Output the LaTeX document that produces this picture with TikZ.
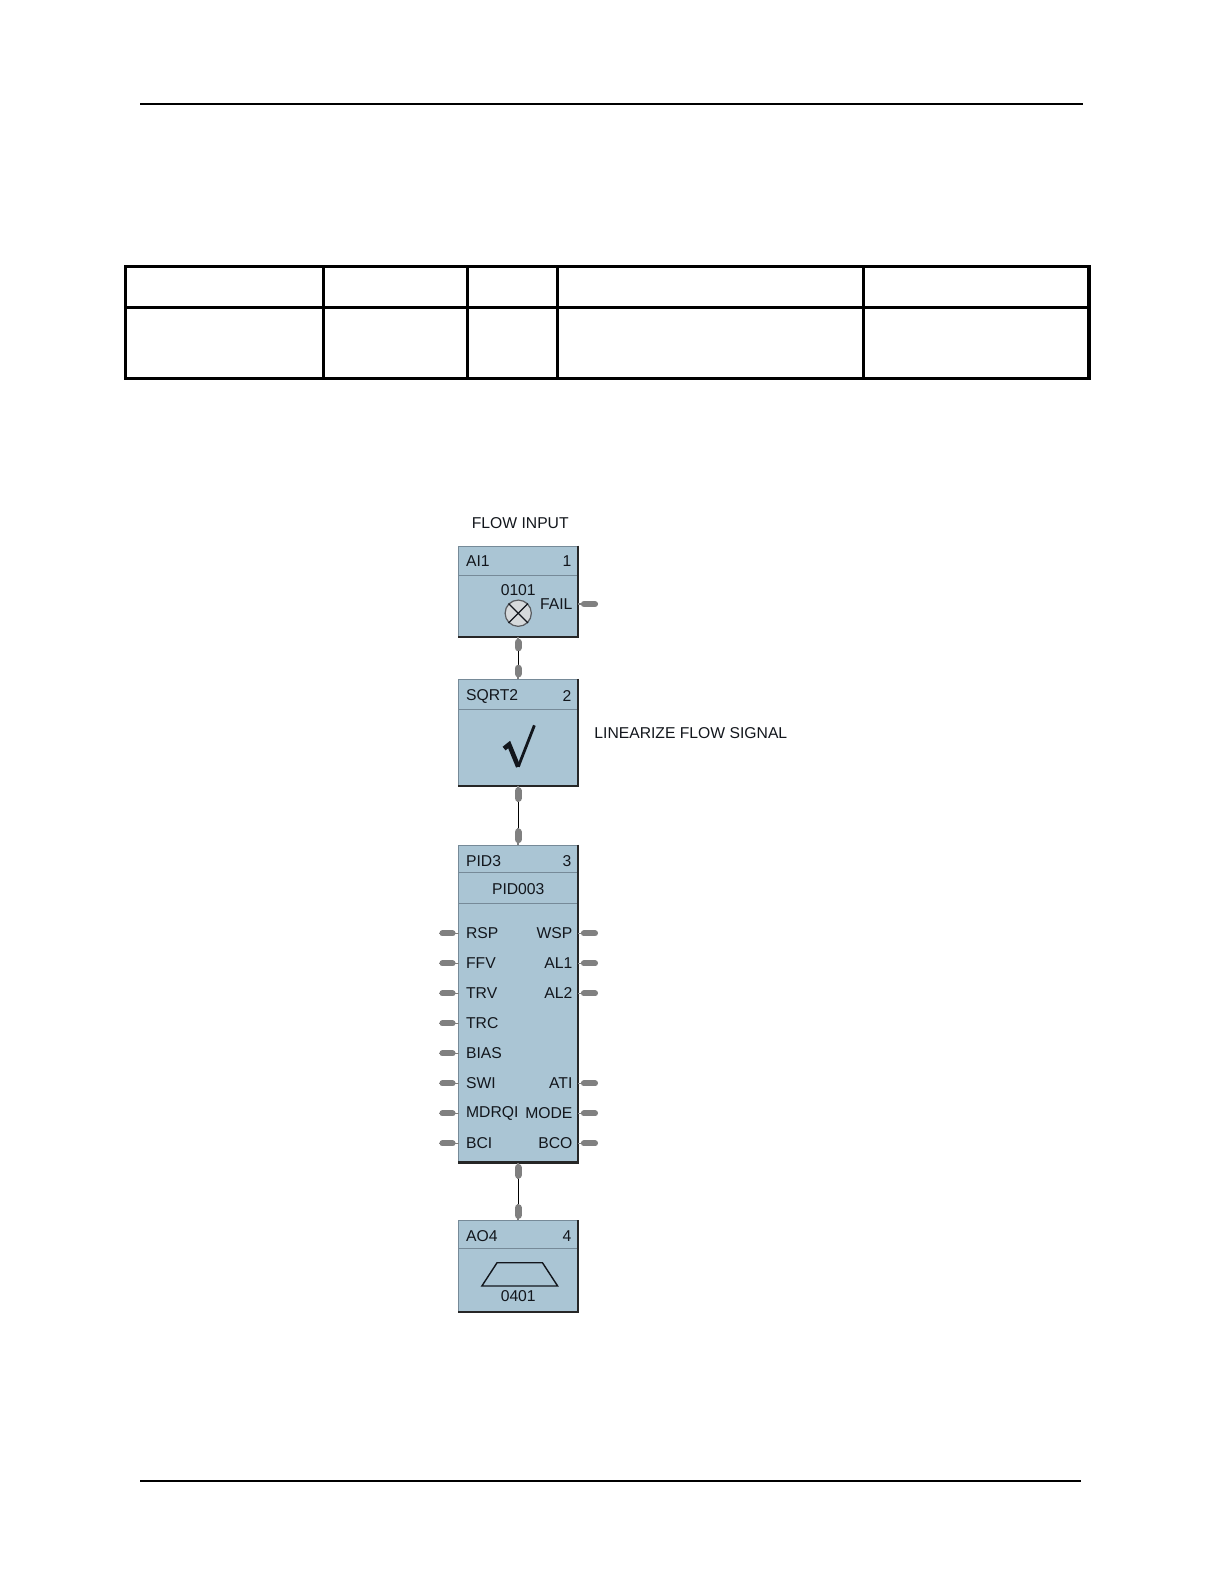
\documentclass[tikz,border=0pt]{standalone}
\usepackage{fontspec}
\setmainfont{Liberation Sans}
\definecolor{blkfill}{RGB}{170,197,212}
\definecolor{blkedge}{RGB}{118,138,152}
\definecolor{pingray}{RGB}{128,128,128}
\definecolor{txtdark}{RGB}{18,22,28}
\definecolor{lampfill}{RGB}{214,218,220}
\begin{document}
\begin{tikzpicture}[x=0.5bp, y=-0.5bp,
    lbl/.style={font=\fontsize{7.8}{9}\selectfont, text=txtdark, inner sep=0pt},
    fblock/.style={rectangle, draw=blkedge, fill=blkfill, minimum width=59bp, inner sep=0pt, anchor=north},
    shade/.style={draw=black!85, line width=1.1bp},
    divider/.style={draw=blkedge, line width=0.6bp},
    pin/.style={draw=pingray, line width=0.9bp},
    knob/.style={draw=pingray, line width=3bp, line cap=round, shorten <=3bp, shorten >=1.5bp},
    vknob/.style={draw=pingray, line width=3.6bp, line cap=round, shorten <=2.5bp, shorten >=1.8bp},
    wire/.style={draw=black, line width=0.7bp},
    pagerule/.style={line width=1bp},
    grid/.style={line width=1.5bp}]

\useasboundingbox (0,0) rectangle (1212,1568);

% page rules
\draw[pagerule] (139,103) -- (1072,103);
\draw[pagerule] (139,1466) -- (1070,1466);

% empty table
\draw[grid] (124,264) rectangle (1078,375);
\draw[grid] (124,304) -- (1078,304);
\foreach \x in {320,463,552,855}
    \draw[grid] (\x,264) -- (\x,375);

% AI1 block
\node[lbl] (flowlbl) at (515,518) {FLOW INPUT};
\node[fblock, minimum height=45bp] (ai) at (513,540) {};
\draw[divider] ([yshift=-15bp]ai.north west) -- ([yshift=-15bp]ai.north east);
\draw[shade] (ai.north east) -- (ai.south east) -- (ai.south west);
\node[lbl, anchor=west] (ai-name) at (461,555) {AI1};
\node[lbl, anchor=east] (ai-num) at (566,555) {1};
\node[lbl] (ai-ch) at (513,584) {0101};
\node[circle, draw=txtdark!70, fill=lampfill, minimum size=13bp, inner sep=0pt, line width=0.6bp] (ai-lamp) at (513,607) {};
\draw[txtdark, line width=0.6bp] (ai-lamp.north west) -- (ai-lamp.south east);
\draw[txtdark, line width=0.6bp] (ai-lamp.north east) -- (ai-lamp.south west);
\node[lbl, anchor=east] (ai-fail) at (567,598) {FAIL};
\coordinate (ai-f) at (572,598);
\coordinate (ai-ft) at (592,598);
\draw[pin] (ai-f) -- (ai-ft);
\draw[knob] (ai-f) -- (ai-ft);

% SQRT2 block
\node[fblock, minimum height=52.5bp] (sq) at (513,672) {};
\draw[divider] ([yshift=-15bp]sq.north west) -- ([yshift=-15bp]sq.north east);
\draw[shade] (sq.north east) -- (sq.south east) -- (sq.south west);
\node[lbl, anchor=west] (sq-name) at (461,689) {SQRT2};
\node[lbl, anchor=east] (sq-num) at (566,689) {2};
\draw[txtdark, line width=2.3bp, line join=miter] (499,741) -- (504,737) -- (513,759);
\draw[txtdark, line width=1.4bp] (513,759) -- (529,718);
\node[lbl, anchor=west] (sq-note) at (588,726) {LINEARIZE FLOW SIGNAL};

% PID3 block
\node[fblock, minimum height=157bp] (pid) at (513,836) {};
\draw[divider] ([yshift=-14bp]pid.north west) -- ([yshift=-14bp]pid.north east);
\draw[divider] ([yshift=-29bp]pid.north west) -- ([yshift=-29bp]pid.north east);
\draw[shade] (pid.north east) -- (pid.south east) -- (pid.south west);
\node[lbl, anchor=west] (pid-name) at (461,852) {PID3};
\node[lbl, anchor=east] (pid-num) at (566,852) {3};
\node[lbl] (pid-tag) at (513,880) {PID003};
\foreach \lt [count=\i from 0] in {RSP,FFV,TRV,TRC,BIAS,SWI,MDRQI,BCI} {
    \node[lbl, anchor=west] (pid-l\i) at (461,{924+29.7*\i}) {\lt};
    \coordinate (pid-le\i) at (454,{924+29.7*\i});
    \coordinate (pid-lt\i) at (435,{924+29.7*\i});
    \draw[pin] (pid-le\i) -- (pid-lt\i);
    \draw[knob] (pid-le\i) -- (pid-lt\i);
}
\foreach \i/\rt in {0/WSP,1/AL1,2/AL2,5/ATI,6/MODE,7/BCO} {
    \node[lbl, anchor=east] (pid-r\i) at (567,{924+29.7*\i}) {\rt};
    \coordinate (pid-re\i) at (572,{924+29.7*\i});
    \coordinate (pid-rt\i) at (592,{924+29.7*\i});
    \draw[pin] (pid-re\i) -- (pid-rt\i);
    \draw[knob] (pid-re\i) -- (pid-rt\i);
}

% AO4 block
\node[fblock, minimum height=45bp] (ao) at (513,1208) {};
\draw[divider] ([yshift=-14bp]ao.north west) -- ([yshift=-14bp]ao.north east);
\draw[shade] (ao.north east) -- (ao.south east) -- (ao.south west);
\node[lbl, anchor=west] (ao-name) at (461,1224) {AO4};
\node[lbl, anchor=east] (ao-num) at (566,1224) {4};
\draw[txtdark, line width=0.7bp] (477,1273) -- (492,1250) -- (537,1250) -- (552,1273) -- cycle;
\node[lbl] (ao-ch) at (513,1283) {0401};

% connections
\coordinate (ai-o) at ([yshift=-7bp]ai.south);
\coordinate (sq-i) at ([yshift=7bp]sq.north);
\draw[pin] (ai.south) -- (ai-o);
\draw[vknob] (ai.south) -- (ai-o);
\draw[wire] (ai-o) -- (sq-i);
\draw[pin] (sq.north) -- (sq-i);
\draw[vknob] (sq.north) -- (sq-i);

\coordinate (sq-o) at ([yshift=-8bp]sq.south);
\coordinate (pid-i) at ([yshift=8bp]pid.north);
\draw[pin] (sq.south) -- (sq-o);
\draw[vknob] (sq.south) -- (sq-o);
\draw[wire] (sq-o) -- (pid-i);
\draw[pin] (pid.north) -- (pid-i);
\draw[vknob] (pid.north) -- (pid-i);

\coordinate (pid-o) at ([yshift=-8bp]pid.south);
\coordinate (ao-i) at ([yshift=8bp]ao.north);
\draw[pin] (pid.south) -- (pid-o);
\draw[vknob] (pid.south) -- (pid-o);
\draw[wire] (pid-o) -- (ao-i);
\draw[pin] (ao.north) -- (ao-i);
\draw[vknob] (ao.north) -- (ao-i);
\end{tikzpicture}
\end{document}
